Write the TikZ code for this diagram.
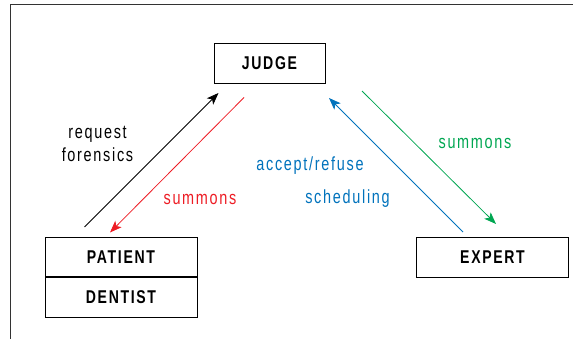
\documentclass[tikz,border=0pt]{standalone}
\usepackage{fontspec}
\setmainfont{Liberation Sans}[FakeStretch=0.76,LetterSpace=9]
\usetikzlibrary{arrows.meta}

\definecolor{sumred}{RGB}{237,28,36}
\definecolor{sumgreen}{RGB}{0,166,81}
\definecolor{askblue}{RGB}{0,114,188}

\tikzset{
  party/.style={draw, line width=1pt, minimum width=152pt, minimum height=39.5pt,
    inner sep=0pt, font=\fontsize{18.5}{20}\selectfont\bfseries},
  flow/.style={line width=0.8pt, -{Stealth[length=12pt,width=9pt,inset=3pt]}},
  flowlabel/.style={font=\fontsize{19}{23}\selectfont, inner sep=0pt}
}

\begin{document}
\begin{tikzpicture}[x=1pt, y=-1pt]
\useasboundingbox (0,0) rectangle (573,339);

% frame, only the top and the left side show
\draw[line width=1pt, black!80] (573,5) -- (10.5,5) -- (10.5,339);

% parties
\node[party, minimum width=111pt] (judge) at (269.5,63.5) {JUDGE};
\node[party] (patient) at (121,257) {PATIENT};
\node[party, anchor=north] (dentist) at (patient.south) {DENTIST};
\node[party] (expert) at (492.5,257.5) {EXPERT};

% end points of the arrows
\coordinate (reqA) at (84.5,227);
\coordinate (reqB) at (218.5,93);
\coordinate (sumA) at (244,97.5);
\coordinate (sumB) at (110,232.5);
\coordinate (askA) at (463,232);
\coordinate (askB) at (329,98);
\coordinate (expA) at (362,91);
\coordinate (expB) at (496,224);

\draw[flow, black] (reqA) -- (reqB);
\draw[flow, sumred] (sumA) -- (sumB);
\draw[flow, askblue] (askA) -- (askB);
\draw[flow, sumgreen] (expA) -- (expB);

% labels
\node[flowlabel, align=center, anchor=base] (reqlabel) at (97.5,162) {request\\forensics};
\node[flowlabel, sumred, anchor=base] (sumlabel) at (200,205) {summons};
\node[flowlabel, askblue, anchor=base] (asklabel) at (310,171) {accept/refuse};
\node[flowlabel, askblue, anchor=base] (schedlabel) at (347.5,204) {scheduling};
\node[flowlabel, sumgreen, anchor=base] (explabel) at (475,149) {summons};
\end{tikzpicture}
\end{document}
